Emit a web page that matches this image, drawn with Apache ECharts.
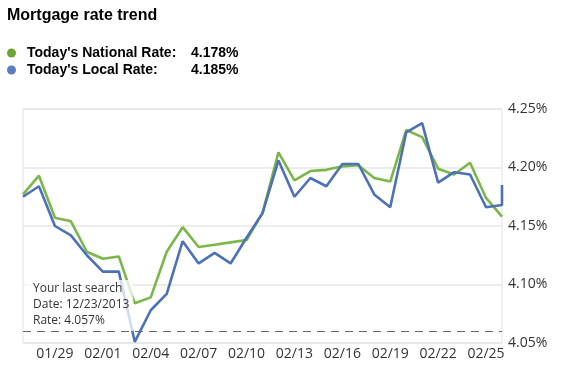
<!DOCTYPE html>
<html>
<head>
<meta charset="utf-8">
<script src="https://cdn.jsdelivr.net/npm/echarts@6/dist/echarts.min.js"></script>
<style>
  html, body { margin: 0; padding: 0; background: #fff; }
  #chart { width: 574px; height: 375px; }
</style>
</head>
<body>
<div id="chart"></div>
<script>
  // dates shown along the bottom (one point per day)
  const dates = ['01/27', '01/28', '01/29', '01/30', '01/31', '02/01', '02/02', '02/03', '02/04', '02/05',
    '02/06', '02/07', '02/08', '02/09', '02/10', '02/11', '02/12', '02/13', '02/14', '02/15',
    '02/16', '02/17', '02/18', '02/19', '02/20', '02/21', '02/22', '02/23', '02/24', '02/25', '02/26']
  const nationalRates = [4.177, 4.193, 4.157, 4.154, 4.128, 4.122, 4.124, 4.084, 4.089, 4.128,
    4.149, 4.132, 4.134, 4.136, 4.138, 4.161, 4.213, 4.189, 4.197, 4.198,
    4.201, 4.202, 4.191, 4.188, 4.232, 4.226, 4.199, 4.194, 4.204, 4.174, 4.158]
  const localRates = [4.175, 4.184, 4.150, 4.142, 4.125, 4.111, 4.111, 4.051, 4.078, 4.092,
    4.137, 4.118, 4.127, 4.118, 4.140, 4.161, 4.206, 4.175, 4.191, 4.184,
    4.203, 4.203, 4.177, 4.166, 4.230, 4.238, 4.187, 4.196, 4.194, 4.166, 4.168]
  const todayNational = 4.178
  const todayLocal = 4.185
  const lastSearchRate = 4.057
  const lastSearchDate = '12/23/2013'
  const yTicks = [4.05, 4.10, 4.15, 4.20, 4.25]

  const green = '#7ab648'
  const blue = '#4d71b7'

  // local series gets today's rate appended on the last day
  const localData = localRates.map((v, i) => [i, v])
  localData.push([dates.length - 1, todayLocal])

  const chart = echarts.init(document.getElementById('chart'))
  chart.setOption({
    animation: false,
    title: {
      text: 'Mortgage rate trend',
      left: 2,
      top: 3,
      textStyle: { fontFamily: 'Liberation Sans', fontSize: 16, fontWeight: 'bold', color: '#000' }
    },
    legend: {
      orient: 'vertical',
      left: 2,
      top: 41,
      itemGap: 3,
      icon: 'circle',
      itemWidth: 9,
      itemHeight: 9,
      data: [
        { name: 'national', itemStyle: { color: '#6ea534' } },
        { name: 'local', itemStyle: { color: '#5b7dc2' } }
      ],
      formatter: name => name === 'national'
        ? '{a|Today\'s National Rate:}{b|' + todayNational.toFixed(3) + '%}'
        : '{a|Today\'s Local Rate:}{b|' + todayLocal.toFixed(3) + '%}',
      textStyle: {
        fontFamily: 'Liberation Sans',
        fontSize: 14,
        fontWeight: 'bold',
        color: '#000',
        rich: {
          a: { fontFamily: 'Liberation Sans', fontSize: 14, fontWeight: 'bold', color: '#000', width: 164, padding: [0, 0, 0, 6] },
          b: { fontFamily: 'Liberation Sans', fontSize: 14, fontWeight: 'bold', color: '#000' }
        }
      }
    },
    grid: {
      left: 23,
      right: 72,
      top: 109,
      bottom: 32,
      show: true,
      borderColor: '#e2e2e2',
      borderWidth: 1
    },
    xAxis: {
      type: 'category',
      data: dates,
      boundaryGap: false,
      axisLine: { show: false },
      axisTick: { show: false },
      splitLine: { show: false },
      axisLabel: {
        interval: idx => idx % 3 === 2,
        margin: 4,
        fontFamily: 'Open Sans',
        fontSize: 14,
        color: '#333'
      }
    },
    yAxis: {
      type: 'value',
      position: 'right',
      min: yTicks[0],
      max: yTicks[yTicks.length - 1],
      interval: 0.05,
      axisLine: { show: false },
      axisTick: { show: false },
      splitLine: { lineStyle: { color: '#e6e6e6', width: 1.5 } },
      axisLabel: {
        margin: 6,
        fontFamily: 'Open Sans',
        fontSize: 14,
        color: '#333',
        formatter: v => v.toFixed(2) + '%'
      }
    },
    series: [
      {
        name: 'national',
        type: 'line',
        data: nationalRates,
        symbol: 'none',
        lineStyle: { color: green, width: 2.6 },
        itemStyle: { color: green }
      },
      {
        name: 'local',
        type: 'line',
        data: localData,
        symbol: 'none',
        lineStyle: { color: blue, width: 2.6 },
        itemStyle: { color: blue },
        markLine: {
          silent: true,
          symbol: 'none',
          label: { show: false },
          lineStyle: { color: '#666', type: [8, 6], width: 1 },
          data: [{ yAxis: lastSearchRate }]
        }
      }
    ],
    graphic: [
      {
        type: 'text',
        left: 25,
        top: 280,
        z: 100,
        style: {
          text: 'Your last search\nDate: ' + lastSearchDate + '\nRate: ' + lastSearchRate.toFixed(3) + '%',
          fontFamily: 'Open Sans',
          fontSize: 12,
          lineHeight: 16,
          fill: '#333',
          backgroundColor: 'rgba(255,255,255,0.75)',
          padding: [1, 4, 2, 8]
        }
      }
    ]
  })
</script>
</body>
</html>
